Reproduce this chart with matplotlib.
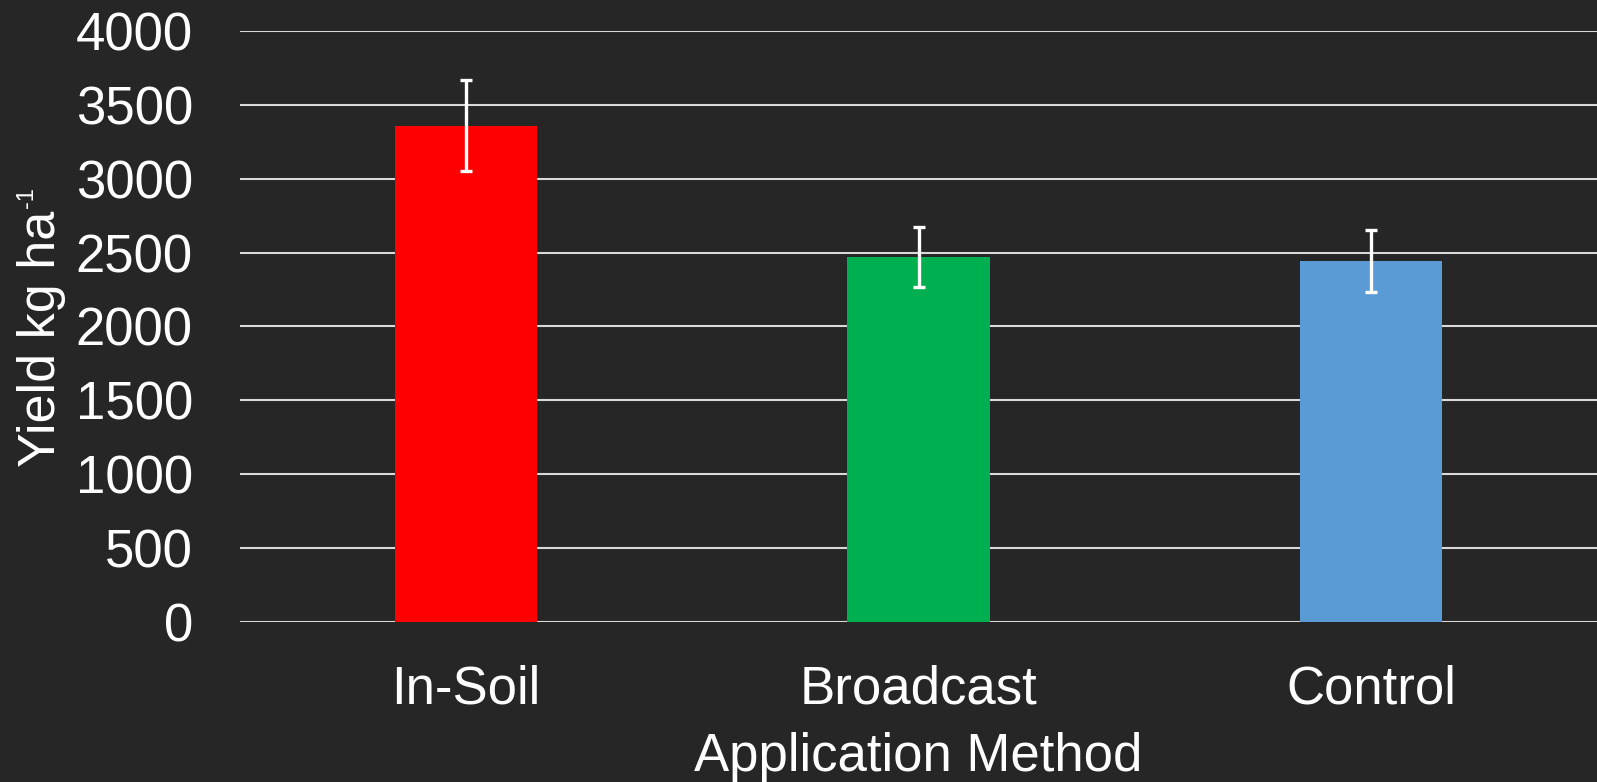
import matplotlib
matplotlib.use("Agg")
import matplotlib.pyplot as plt

categories = ["In-Soil", "Broadcast", "Control"]
yields = [3360, 2471, 2444]
errors = [307, 205, 208]
colors = ["#FF0000", "#00B050", "#5B9BD5"]
yticks = [0, 500, 1000, 1500, 2000, 2500, 3000, 3500, 4000]

plt.rcParams['font.family'] = ['Liberation Sans', 'DejaVu Sans']
bg = "#262626"
W, H = 1597, 782
fig = plt.figure(figsize=(W/100, H/100), dpi=100, facecolor=bg)
ax = fig.add_axes([240/W, 1-621.5/H, 1-240/W, (621.5-31.2)/H])
ax.set_facecolor(bg)

x = list(range(len(categories)))
ax.bar(x, yields, width=0.314, color=colors, zorder=3)
ax.errorbar(x, yields, yerr=errors, fmt='none', ecolor='white', elinewidth=2.4,
            capsize=4.3, capthick=2.4, zorder=4)

ax.set_xlim(-0.5, 2.5)
ax.set_ylim(0, 4000)
ax.set_yticks(yticks)
ax.set_yticklabels([str(v) for v in yticks])
ax.set_xticks(x)
ax.set_xticklabels(categories)
ax.yaxis.grid(True, color="#d9d9d9", linewidth=1.5, zorder=0)
ax.set_axisbelow(True)
for s in ax.spines.values():
    s.set_visible(False)
ax.tick_params(axis='both', length=0, colors='white', labelsize=38)
ax.tick_params(axis='y', pad=34)
ax.tick_params(axis='x', pad=31)
ax.set_xlabel("Application Method", color='white', fontsize=38)
ax.xaxis.set_label_coords(0.5, -0.1876)

# y-axis title with a hyphen superscript
main = fig.text(55/W, 1-467/H, "Yield kg ha", rotation=90, rotation_mode='anchor',
                ha='left', va='baseline', color='white', fontsize=37.5)
fig.canvas.draw()
ext = main.get_window_extent(renderer=fig.canvas.get_renderer())
fig.text(33/W, (ext.y1 + 3)/H, "-1", rotation=90, rotation_mode='anchor',
         ha='left', va='baseline', color='white', fontsize=17)

fig.savefig("out.png", dpi=100, facecolor=bg)
